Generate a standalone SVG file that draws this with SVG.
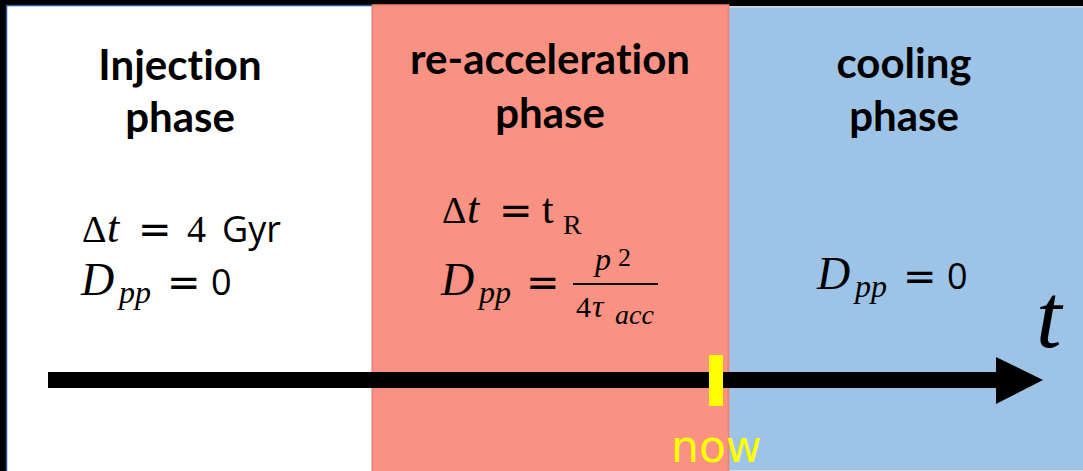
<svg xmlns="http://www.w3.org/2000/svg" width="1083" height="471" viewBox="0 0 1083 471">
<style>
.title{font-family:Lato,"Open Sans","Liberation Sans",sans-serif;font-weight:bold;font-size:42px;fill:#000;text-anchor:middle;font-variant-ligatures:none}
.m{font-family:"Liberation Serif","DejaVu Serif",serif;fill:#000}
.i{font-style:italic}
.eq{font-family:"DejaVu Sans",sans-serif;font-size:40px;fill:#000}
.s{font-family:"Open Sans","Liberation Sans",sans-serif;fill:#000}
</style>
<rect x="0" y="0" width="1083" height="471" fill="#000"/>
<g id="injection">
<rect x="6.5" y="5.5" width="366" height="470" fill="#fff" stroke="#2F5597" stroke-width="1.5"/>
<text class="title" x="180" y="80">Injection</text>
<text class="title" x="180" y="132">phase</text>
<text class="m" x="82" y="242" font-size="38">Δ</text>
<text class="m i" x="107" y="242" font-size="44">t</text>
<text class="eq" x="138" y="243">=</text>
<text class="m" x="187" y="242" font-size="38">4</text>
<text class="s" x="222" y="242" font-size="36">Gyr</text>
<text class="m i" x="81" y="295" font-size="46">D</text>
<text class="m i" x="119" y="303" font-size="32">pp</text>
<text class="eq" x="167" y="296">=</text>
<text class="s" x="211" y="295" font-size="36">0</text>
</g>
<g id="reacceleration">
<rect x="372.5" y="5" width="356" height="467" fill="#FA9283" stroke="#F2806F" stroke-width="1.5"/>
<text class="title" x="550" y="74">re-acceleration</text>
<text class="title" x="550" y="128">phase</text>
<text class="m" x="442" y="223" font-size="38">Δ</text>
<text class="m i" x="467" y="223" font-size="44">t</text>
<text class="eq" x="499" y="224">=</text>
<text class="m" x="542" y="223" font-size="42">t</text>
<text class="m" x="563" y="234" font-size="28">R</text>
<text class="m i" x="595" y="270" font-size="32">p</text>
<text class="m" x="618" y="266" font-size="26">2</text>
<text class="m i" x="441" y="295" font-size="46">D</text>
<text class="m i" x="479" y="303" font-size="32">pp</text>
<text class="eq" x="526" y="296">=</text>
<line x1="573" y1="284" x2="658" y2="284" stroke="#000" stroke-width="2"/>
<text class="m" x="576" y="317" font-size="30">4</text>
<text class="m i" x="592" y="317" font-size="32">τ</text>
<text class="m i" x="615" y="324" font-size="28">acc</text>
</g>
<g id="cooling">
<rect x="729" y="6" width="354" height="465" fill="#9DC3E6"/>
<line x1="729" y1="7" x2="1083" y2="7" stroke="#D9D9D9" stroke-width="1.5"/>
<line x1="729" y1="470.5" x2="1083" y2="470.5" stroke="#D9D9D9" stroke-width="1"/>
<line x1="728.5" y1="5" x2="728.5" y2="471" stroke="#F2806F" stroke-width="1.5"/>
<text class="title" x="904" y="78">cooling</text>
<text class="title" x="904" y="131">phase</text>
<text class="m i" x="817" y="289" font-size="46">D</text>
<text class="m i" x="855" y="297" font-size="32">pp</text>
<text class="eq" x="903" y="290">=</text>
<text class="s" x="947" y="289" font-size="36">0</text>
</g>
<g id="connectors">
<rect x="48" y="372" width="950" height="16" fill="#000"/>
<polygon points="996,357 1043,380 996,404" fill="#000"/>
</g>
<g id="axis-label">
<text class="m i" x="1036" y="347" font-size="92">t</text>
</g>
<g id="now">
<rect x="709" y="355" width="14" height="51" fill="#FFFF00"/>
<text x="671" y="462" font-family="'DejaVu Sans',sans-serif" font-size="44" fill="#FFFF00">now</text>
</g>
</svg>
